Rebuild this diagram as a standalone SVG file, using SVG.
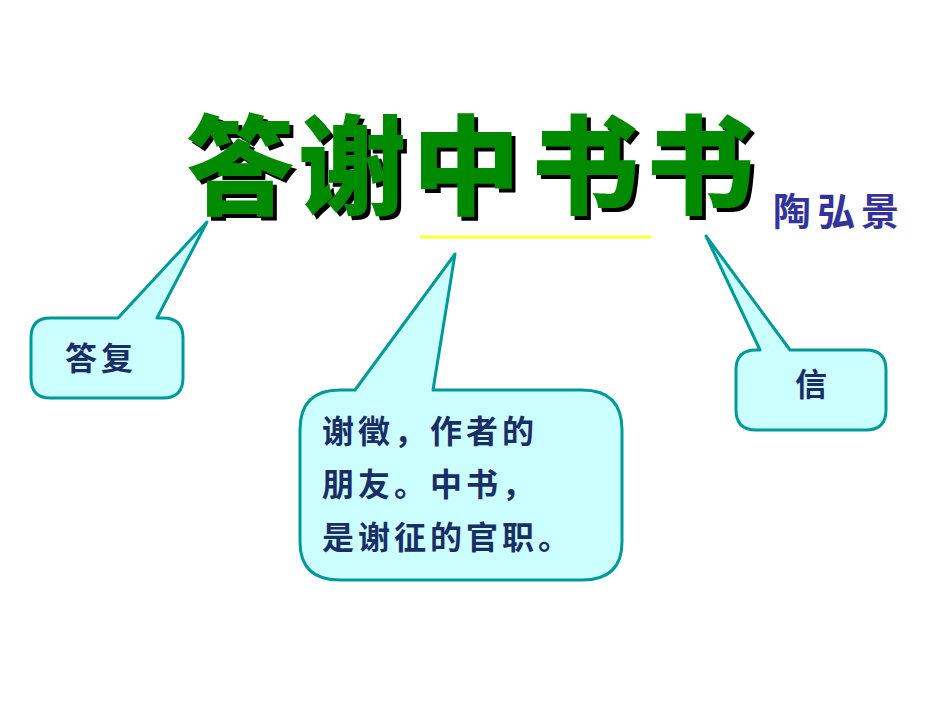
<svg xmlns="http://www.w3.org/2000/svg" width="950" height="713" viewBox="0 0 950 713">
<defs>
<filter id="sh" x="-10%" y="-10%" width="130%" height="130%">
<feOffset in="SourceAlpha" dx="4" dy="4" result="o"/>
<feMerge><feMergeNode in="o"/><feMergeNode in="SourceGraphic"/></feMerge>
</filter>
</defs>
<style>
.t{font-family:"Noto Sans CJK SC",sans-serif;font-weight:900;font-size:108px;text-anchor:middle;fill:#008a00}
.c{fill:#ccffff;stroke:#009999;stroke-width:3;stroke-linejoin:round}
.l{font-family:"Noto Sans CJK SC",sans-serif;font-weight:700;font-size:32px;fill:#1a2e66;letter-spacing:4px}
</style>
<rect width="950" height="713" fill="#fff"/>
<g id="title" filter="url(#sh)">
<text class="t" x="240" y="206">答</text><text class="t" x="352" y="206">谢</text><text class="t" x="466" y="206">中</text><text class="t" x="585" y="206">书</text><text class="t" x="700" y="206">书</text>
</g>
<g id="author"><text x="773" y="225" style="font-family:'Noto Sans CJK SC',sans-serif;font-weight:700;font-size:38px;fill:#333399;letter-spacing:6px">陶弘景</text></g>
<g id="underline"><line x1="420" y1="237" x2="651" y2="237" stroke="#ffff33" stroke-width="3"/></g>
<g id="connectors"></g>
<g id="c1">
<path class="c" d="M50,318 L118,318 L207,222 L157,318 L163,318 Q183,318 183,338 L183,378 Q183,398 163,398 L50,398 Q31,398 31,378 L31,338 Q31,318 50,318 Z"/>
<text class="l" x="65" y="370">答复</text>
</g>
<g id="c2">
<path class="c" d="M340,390 L355,390 L455,254 L433,390 L582,390 Q622,390 622,430 L622,542 Q622,580 582,580 L340,580 Q300,580 300,542 L300,430 Q300,390 340,390 Z"/>
<text class="l" x="322" y="443">谢徵，作者的</text>
<text class="l" x="322" y="496">朋友。中书，</text>
<text class="l" x="322" y="549">是谢征的官职。</text>
</g>
<g id="c3">
<path class="c" d="M756,350 L760,350 L706,236 L790,350 L866,350 Q886,350 886,370 L886,410 Q886,430 866,430 L756,430 Q736,430 736,410 L736,370 Q736,350 756,350 Z"/>
<text class="l" x="795" y="396">信</text>
</g>
</svg>
